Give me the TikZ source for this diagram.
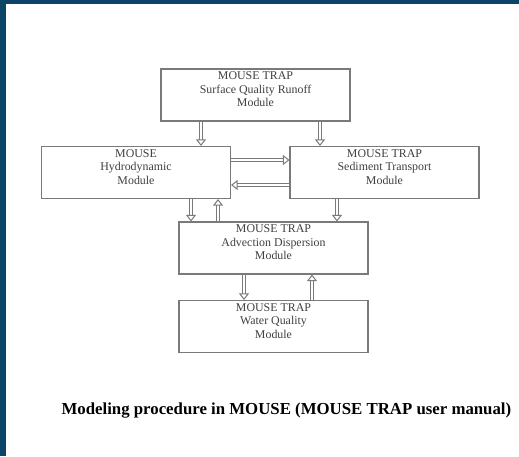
\documentclass[tikz,border=0pt]{standalone}
\usepackage{fontspec}
\setmainfont{Liberation Serif}
\usetikzlibrary{arrows.meta}

\definecolor{frameblue}{HTML}{0B4466}
\definecolor{boxgray}{HTML}{7A7A7A}

\begin{document}
\begin{tikzpicture}[x=1pt, y=-1pt,
  box/.style={draw=boxgray, line width=1.1pt, fill=white, minimum width=189pt, minimum height=52pt, inner sep=0pt},
  boxtext/.style={align=center, font=\fontsize{11.9}{13.5}\selectfont, text=black!75},
  flow/.style={draw=boxgray, line width=1pt, double=white, double distance=2.4pt,
    -{Triangle[open, length=6.5pt, width=10pt, line width=1pt]}}]
% page and frame
\fill[white] (0,0) rectangle (519,456);
\fill[frameblue] (0,0) rectangle (519,4);
\fill[frameblue] (0,0) rectangle (6,456);
% modules
\node[box, label={[boxtext, yshift=5.5pt]center:MOUSE TRAP\\Surface Quality Runoff\\Module}] (runoff) at (255.5,95) {};
\node[box, label={[boxtext, yshift=5.5pt]center:MOUSE\\Hydrodynamic\\Module}] (hydro) at (136,172.5) {};
\node[box, label={[boxtext, yshift=5.5pt]center:MOUSE TRAP\\Sediment Transport\\Module}] (sediment) at (384.5,172.5) {};
\node[box, label={[boxtext, yshift=5.5pt]center:MOUSE TRAP\\Advection Dispersion\\Module}] (advection) at (273.5,248) {};
\node[box, label={[boxtext, yshift=5.5pt]center:MOUSE TRAP\\Water Quality\\Module}] (quality) at (273.5,326.5) {};
% runoff feeds both
\draw[flow] ([xshift=-54.5pt]runoff.south) coordinate (r1) -- (r1 |- hydro.north);
\draw[flow] ([xshift=64.5pt]runoff.south) coordinate (r2) -- (r2 |- sediment.north);
% hydrodynamic <-> sediment
\draw[flow] ([yshift=12.5pt]hydro.east) coordinate (h1) -- (h1 -| sediment.west);
\draw[flow] ([yshift=-12.5pt]sediment.west) coordinate (s1) -- (s1 -| hydro.east);
% into advection dispersion
\draw[flow] ([xshift=55pt]hydro.south) coordinate (h2) -- (h2 |- advection.north);
\draw[flow] ([xshift=-55.5pt]advection.north) coordinate (a1) -- (a1 |- hydro.south);
\draw[flow] ([xshift=-47.5pt]sediment.south) coordinate (s2) -- (s2 |- advection.north);
% advection dispersion <-> water quality
\draw[flow] ([xshift=-29.5pt]advection.south) coordinate (a2) -- (a2 |- quality.north);
\draw[flow] ([xshift=38.5pt]quality.north) coordinate (q1) -- (q1 |- advection.south);
% caption
\node[anchor=base west, font=\fontsize{16.8}{18}\selectfont\bfseries] (caption) at (58,414)
  {Modeling procedure in MOUSE (MOUSE TRAP user manual)};
\end{tikzpicture}
\end{document}
